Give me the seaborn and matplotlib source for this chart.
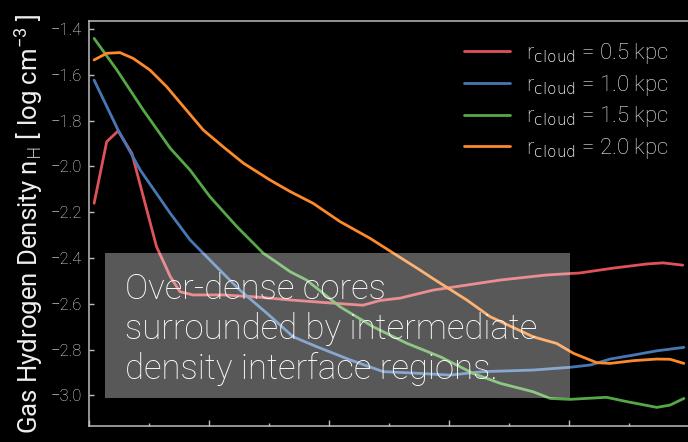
import numpy as np
import pandas as pd
import matplotlib
matplotlib.use("Agg")
import matplotlib.pyplot as plt
from matplotlib.patches import Rectangle
from matplotlib.ticker import MultipleLocator
import seaborn as sns

# ---- data ----
labels = [r"r$_{\rm cloud}$ = 0.5 kpc", r"r$_{\rm cloud}$ = 1.0 kpc",
          r"r$_{\rm cloud}$ = 1.5 kpc", r"r$_{\rm cloud}$ = 2.0 kpc"]
colors = ["#e0525a", "#4878b4", "#55a846", "#fd8a2a"]

x_05 = [0.009, 0.030, 0.049, 0.072, 0.091, 0.113, 0.136, 0.152, 0.174, 0.224, 0.280, 0.336,
        0.407, 0.457, 0.486, 0.519, 0.574, 0.630, 0.686, 0.763, 0.819, 0.874, 0.930, 0.957, 0.990]
y_05 = [-2.161, -1.892, -1.845, -1.943, -2.132, -2.350, -2.481, -2.547, -2.561, -2.561, -2.570, -2.583,
        -2.597, -2.606, -2.585, -2.575, -2.540, -2.518, -2.496, -2.474, -2.465, -2.444, -2.426, -2.421, -2.431]

x_10 = [0.009, 0.049, 0.086, 0.136, 0.169, 0.213, 0.252, 0.297, 0.341, 0.380, 0.436, 0.491,
        0.547, 0.602, 0.657, 0.741, 0.802, 0.836, 0.869, 0.907, 0.947, 0.992]
y_10 = [-1.623, -1.841, -2.016, -2.205, -2.321, -2.438, -2.540, -2.641, -2.744, -2.787, -2.845, -2.896,
        -2.903, -2.911, -2.896, -2.889, -2.877, -2.867, -2.841, -2.824, -2.805, -2.790]

x_15 = [0.009, 0.047, 0.091, 0.136, 0.169, 0.202, 0.247, 0.291, 0.308, 0.336, 0.363, 0.419, 0.474,
        0.530, 0.586, 0.641, 0.686, 0.741, 0.769, 0.802, 0.863, 0.897, 0.947, 0.969, 0.992]
y_15 = [-1.441, -1.579, -1.754, -1.921, -2.016, -2.132, -2.263, -2.379, -2.409, -2.460, -2.496, -2.613, -2.700,
        -2.772, -2.831, -2.904, -2.947, -2.984, -3.013, -3.017, -3.008, -3.027, -3.052, -3.042, -3.013]

x_20 = [0.009, 0.030, 0.052, 0.074, 0.102, 0.130, 0.158, 0.191, 0.224, 0.258, 0.302, 0.336, 0.374,
        0.419, 0.469, 0.508, 0.552, 0.574, 0.630, 0.669, 0.741, 0.780, 0.808, 0.847, 0.869, 0.908,
        0.947, 0.969, 0.992]
y_20 = [-1.535, -1.506, -1.503, -1.528, -1.579, -1.652, -1.739, -1.841, -1.914, -1.986, -2.059, -2.110, -2.161,
        -2.241, -2.314, -2.379, -2.452, -2.490, -2.583, -2.656, -2.744, -2.773, -2.816, -2.857, -2.860, -2.848,
        -2.841, -2.842, -2.860]

y_ticks = [-3.0, -2.8, -2.6, -2.4, -2.2, -2.0, -1.8, -1.6, -1.4]
annotation = "Over-dense cores\nsurrounded by intermediate\ndensity interface regions."

frames = []
for lab, xs, ys in zip(labels, [x_05, x_10, x_15, x_20], [y_05, y_10, y_15, y_20]):
    frames.append(pd.DataFrame({"r": xs, "nH": ys, "cloud": lab}))
df = pd.concat(frames, ignore_index=True)

# ---- style ----
sns.set_theme(style="dark")
plt.rcParams.update({
    "font.family": ["Roboto", "DejaVu Sans"],
    "font.weight": "light",
    "mathtext.default": "regular",
    "figure.facecolor": "black",
    "axes.facecolor": "black",
    "savefig.facecolor": "black",
    "axes.edgecolor": "#bdbdbd",
    "text.color": "#eeeeee",
    "axes.labelcolor": "#eeeeee",
    "xtick.color": "#bdbdbd",
    "ytick.color": "#bdbdbd",
    "xtick.labelcolor": "#e6e6e6",
    "ytick.labelcolor": "#e6e6e6",
    "axes.unicode_minus": True,
})

fig = plt.figure(figsize=(6.88, 4.42), dpi=100)
ax = fig.add_axes([88.7 / 688, 16.3 / 442, 600 / 688, 404.7 / 442])

sns.lineplot(data=df, x="r", y="nH", hue="cloud", palette=colors, hue_order=labels,
             estimator=None, sort=False, linewidth=2.0, ax=ax)

ax.set_xlim(0, 1.0)
ax.set_ylim(-3.132, -1.365)
ax.xaxis.set_major_locator(MultipleLocator(0.2))
ax.xaxis.set_minor_locator(MultipleLocator(0.1))
ax.set_yticks(y_ticks)
ax.set_yticklabels([f"{v:.1f}".replace("-", "\u2212") for v in y_ticks])
ax.set_xticklabels([])
ax.tick_params(axis="x", which="major", direction="in", length=4.2, width=1, bottom=True, labelbottom=False)
ax.tick_params(axis="x", which="minor", direction="in", length=2.2, width=1, bottom=True)
ax.tick_params(axis="y", which="major", direction="in", length=3.5, width=1, left=True, labelsize=12, pad=5)
for s in ax.spines.values():
    s.set_visible(True)
    s.set_linewidth(1.1)
    s.set_color("#bdbdbd")
ax.grid(False)

ax.set_xlabel("")
ax.set_ylabel(r"Gas Hydrogen Density n$_{\rm H}$ [ log cm$^{-3}$ ]", fontsize=18.5, labelpad=4)

leg = ax.legend(loc="upper right", bbox_to_anchor=(1.0, 1.0), frameon=False, fontsize=16,
                handlelength=2.1, handletextpad=0.7, labelspacing=0.3)
for t in leg.get_texts():
    t.set_color("#eeeeee")

ax.add_patch(Rectangle((0.027, 0.0684), 0.775, 0.3576, transform=ax.transAxes,
                       facecolor="white", alpha=0.35, edgecolor="none", zorder=5))
ax.text(0.0605, 0.378, annotation, transform=ax.transAxes, ha="left", va="top",
        fontsize=25, color="white", linespacing=1.22, zorder=6)

fig.savefig("out.png", dpi=100, facecolor="black")
